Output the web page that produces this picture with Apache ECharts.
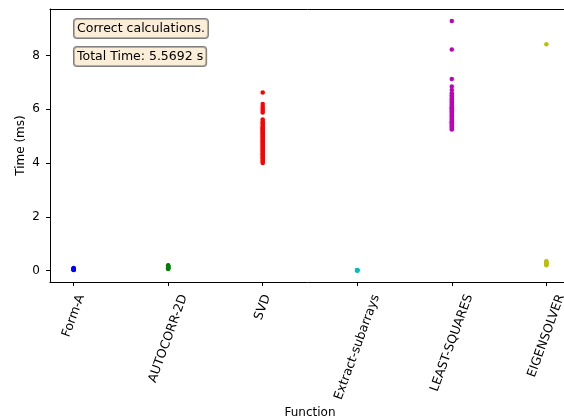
<!DOCTYPE html>
<html>
<head>
<meta charset="utf-8">
<script src="https://cdn.jsdelivr.net/npm/echarts@6/dist/echarts.min.js"></script>
<style>
html, body { margin: 0; padding: 0; background: #fff; }
#main { width: 564px; height: 419px; }
</style>
</head>
<body>
<div id="main"></div>
<script>
// function names on the x axis
var functions = ["Form-A", "AUTOCORR-2D", "SVD", "Extract-subarrays", "LEAST-SQUARES", "EIGENSOLVER"];
var colors = ["#0000ff", "#008000", "#ff0000", "#00bfbf", "#bf00bf", "#bfbf00"];
var xTicks = [0, 1, 2, 3, 4, 5];
var yTicks = [0, 2, 4, 6, 8];

// measured times (ms), one run per point
var formA = [0.03, 0.04, 0.05, 0.06, 0.07, 0.08, 0.1, 0.05, 0.04, 0.06];
var autocorr = [0.06, 0.08, 0.1, 0.12, 0.14, 0.16, 0.18, 0.2, 0.09, 0.11];
var svd = [6.63, 6.2, 6.1, 6.02, 5.95, 5.88,
    5.62, 5.55, 5.5, 5.46, 5.42, 5.38, 5.33, 5.3, 5.26, 5.22, 5.18, 5.14, 5.1, 5.06,
    5.02, 4.98, 4.95, 4.91, 4.87, 4.83, 4.8, 4.76, 4.72, 4.68, 4.65, 4.61, 4.57, 4.53,
    4.5, 4.46, 4.42, 4.38, 4.35, 4.31, 4.27, 4.23, 4.2, 4.16, 4.12, 4.08, 4.04, 4.0];
var extract = [0.01, 0.02, 0.02, 0.03, 0.02, 0.01];
var leastSquares = [9.28, 8.22, 7.13, 6.85, 6.72, 6.6,
    6.52, 6.47, 6.42, 6.37, 6.32, 6.28, 6.24, 6.2, 6.16, 6.12, 6.08, 6.04, 6.0, 5.96,
    5.92, 5.88, 5.84, 5.8, 5.76, 5.72, 5.68, 5.64, 5.6, 5.56, 5.52, 5.48, 5.44, 5.4,
    5.36, 5.32, 5.28, 5.25];
var eigensolver = [8.42, 0.2, 0.23, 0.26, 0.28, 0.3, 0.33, 0.35];

var allValues = [formA, autocorr, svd, extract, leastSquares, eigensolver];

var chart = echarts.init(document.getElementById('main'));
var font = "DejaVu Sans";
var labelSize = 12.5;

// rotated tick labels: centre each label's box under its tick (like matplotlib),
// by padding the text so it slides straight down from the tick
var ctx = document.createElement("canvas").getContext("2d");
ctx.font = labelSize + "px 'DejaVu Sans'";
var rich = {};
for (var k = 0; k < functions.length; k++) {
    var w = ctx.measureText(functions[k]).width;
    var dy = 0.47 * w + 5;
    rich["t" + k] = {
        color: "#000",
        fontSize: labelSize,
        fontFamily: font,
        padding: [0.684 * dy, 1.88 * dy, 0, 0]
    };
}

var series = [];
for (var i = 0; i < allValues.length; i++) {
    var pts = [];
    for (var j = 0; j < allValues[i].length; j++) {
        pts.push([i, allValues[i][j]]);
    }
    series.push({
        name: functions[i],
        type: "scatter",
        symbolSize: 4.5,
        itemStyle: { color: colors[i], opacity: 1 },
        data: pts
    });
}

var option = {
    animation: false,
    textStyle: { fontFamily: font },
    grid: {
        left: 50,
        top: 9,
        width: 520,
        height: 273,
        outerBoundsMode: "none",
        containLabel: false
    },
    xAxis: [{
        type: "value",
        min: -0.25,
        max: 5.25,
        name: "Function",
        nameLocation: "middle",
        nameGap: 125,
        nameMoveOverlap: false,
        nameTextStyle: { color: "#000", fontSize: 12, fontFamily: font },
        splitLine: { show: false },
        axisLine: { show: true, onZero: false, lineStyle: { color: "#000", width: 1 } },
        axisTick: { show: true, length: 4, lineStyle: { color: "#000" }, customValues: xTicks },
        axisLabel: {
            rotate: 70,
            align: "center",
            verticalAlign: "middle",
            margin: 8,
            customValues: xTicks,
            rich: rich,
            formatter: function (v) {
                var n = Math.round(v);
                return "{t" + n + "|" + functions[n] + "}";
            }
        }
    }, {
        // top spine only
        type: "value",
        position: "top",
        min: -0.25,
        max: 5.25,
        axisLine: { show: true, onZero: false, lineStyle: { color: "#000", width: 1 } },
        axisTick: { show: false },
        axisLabel: { show: false },
        splitLine: { show: false }
    }],
    yAxis: {
        type: "value",
        min: -0.42,
        max: 9.73,
        name: "Time (ms)",
        nameLocation: "middle",
        nameGap: 23,
        nameMoveOverlap: false,
        nameTextStyle: { color: "#000", fontSize: 12, fontFamily: font },
        splitLine: { show: false },
        axisLine: { show: true, onZero: false, lineStyle: { color: "#000", width: 1 } },
        axisTick: { show: true, length: 4, lineStyle: { color: "#000" }, customValues: yTicks },
        axisLabel: { color: "#000", fontSize: 12, fontFamily: font, margin: 10, customValues: yTicks }
    },
    graphic: [{
        type: "text",
        left: 73,
        top: 18,
        style: {
            text: "Correct calculations.",
            fill: "#000",
            font: "12.5px 'DejaVu Sans'",
            backgroundColor: "rgba(245,222,179,0.5)",
            borderColor: "rgba(0,0,0,0.5)",
            borderWidth: 1,
            borderRadius: 3,
            padding: [3, 3, 3, 3]
        }
    }, {
        type: "text",
        left: 73,
        top: 46,
        style: {
            text: "Total Time: 5.5692 s",
            fill: "#000",
            font: "12.5px 'DejaVu Sans'",
            backgroundColor: "rgba(245,222,179,0.5)",
            borderColor: "rgba(0,0,0,0.5)",
            borderWidth: 1,
            borderRadius: 3,
            padding: [3, 3, 3, 3]
        }
    }],
    series: series
};
chart.setOption(option);
</script>
</body>
</html>
